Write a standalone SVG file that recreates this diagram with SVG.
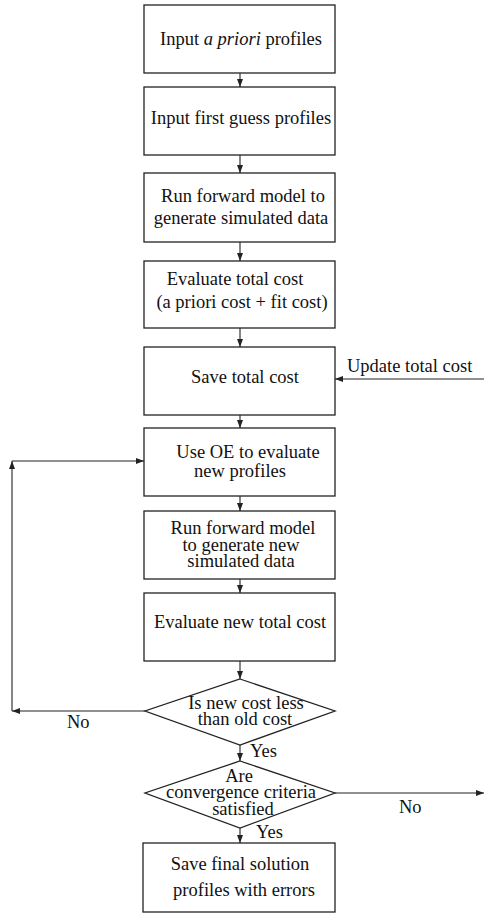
<svg xmlns="http://www.w3.org/2000/svg" width="484" height="914" viewBox="0 0 484 914">
<style>
.box{fill:#fff;stroke:#222;stroke-width:1.3}
.t{font-family:"Liberation Serif","Times New Roman",serif;font-size:18.5px;fill:#111;text-anchor:middle}
.l{font-family:"Liberation Serif","Times New Roman",serif;font-size:18.5px;fill:#111}
.c{fill:none;stroke:#222;stroke-width:1.1}
</style>
<defs>
<marker id="ah" viewBox="0 0 8 6" refX="8" refY="3" markerWidth="8" markerHeight="6" markerUnits="userSpaceOnUse" orient="auto">
<path d="M0,0 L8,3 L0,6 Z" fill="#222"/>
</marker>
</defs>
<rect width="484" height="914" fill="#fff"/>
<g id="connectors">
<line class="c" x1="240" y1="73" x2="240" y2="87" marker-end="url(#ah)"/>
<line class="c" x1="240" y1="155" x2="240" y2="173" marker-end="url(#ah)"/>
<line class="c" x1="240" y1="242" x2="240" y2="261" marker-end="url(#ah)"/>
<line class="c" x1="240" y1="328" x2="240" y2="347" marker-end="url(#ah)"/>
<line class="c" x1="240" y1="415" x2="240" y2="428" marker-end="url(#ah)"/>
<line class="c" x1="240" y1="496" x2="240" y2="511" marker-end="url(#ah)"/>
<line class="c" x1="240" y1="579" x2="240" y2="593" marker-end="url(#ah)"/>
<line class="c" x1="240" y1="661" x2="240" y2="679" marker-end="url(#ah)"/>
<line class="c" x1="240" y1="745" x2="240" y2="761" marker-end="url(#ah)"/>
<line class="c" x1="240" y1="828" x2="240" y2="843" marker-end="url(#ah)"/>
<line class="c" x1="484" y1="379" x2="335" y2="379" marker-end="url(#ah)"/>
<line class="c" x1="335" y1="793" x2="484" y2="793" marker-end="url(#ah)"/>
<line class="c" x1="145" y1="711" x2="12" y2="711" marker-end="url(#ah)"/>
<line class="c" x1="12" y1="711" x2="12" y2="461" marker-end="url(#ah)"/>
<line class="c" x1="12" y1="461" x2="144" y2="461" marker-end="url(#ah)"/>
<text class="l" x="347" y="372">Update total cost</text>
<text class="l" x="399" y="813">No</text>
<text class="l" x="67" y="728">No</text>
<text class="l" x="250" y="757">Yes</text>
<text class="l" x="256" y="838">Yes</text>
</g>
<g id="n1">
<rect class="box" x="144" y="5" width="191" height="68"/>
<text class="t" x="241" y="45">Input <tspan font-style="italic">a priori</tspan> profiles</text>
</g>
<g id="n2">
<rect class="box" x="144" y="87" width="191" height="68"/>
<text class="t" x="241" y="124">Input first guess profiles</text>
</g>
<g id="n3">
<rect class="box" x="144" y="173" width="191" height="69"/>
<text class="t"><tspan x="243" y="202">Run forward model to</tspan><tspan x="241" y="224">generate simulated data</tspan></text>
</g>
<g id="n4">
<rect class="box" x="144" y="261" width="191" height="67"/>
<text class="t"><tspan x="235" y="285">Evaluate total cost</tspan><tspan x="242" y="308">(a priori cost + fit cost)</tspan></text>
</g>
<g id="n5">
<rect class="box" x="144" y="347" width="191" height="68"/>
<text class="t" x="245" y="383">Save total cost</text>
</g>
<g id="n6">
<rect class="box" x="144" y="428" width="191" height="68"/>
<text class="t"><tspan x="248" y="458">Use OE to evaluate</tspan><tspan x="240" y="477">new profiles</tspan></text>
</g>
<g id="n7">
<rect class="box" x="144" y="511" width="191" height="68"/>
<text class="t"><tspan x="243" y="534">Run forward model</tspan><tspan x="241" y="551">to generate new</tspan><tspan x="241" y="567">simulated data</tspan></text>
</g>
<g id="n8">
<rect class="box" x="144" y="593" width="191" height="68"/>
<text class="t" x="240" y="628">Evaluate new total cost</text>
</g>
<g id="d1">
<polygon class="box" points="240,679 335,711 240,745 145,711"/>
<text class="t"><tspan x="246" y="709">Is new cost less</tspan><tspan x="245" y="725">than old cost</tspan></text>
</g>
<g id="d2">
<polygon class="box" points="240,761 335,793 240,828 145,793"/>
<text class="t"><tspan x="239" y="782">Are</tspan><tspan x="241" y="798">convergence criteria</tspan><tspan x="243" y="815">satisfied</tspan></text>
</g>
<g id="n9">
<rect class="box" x="143" y="843" width="192" height="69"/>
<text class="t"><tspan x="240" y="870">Save final solution</tspan><tspan x="244" y="896">profiles with errors</tspan></text>
</g>
</svg>
